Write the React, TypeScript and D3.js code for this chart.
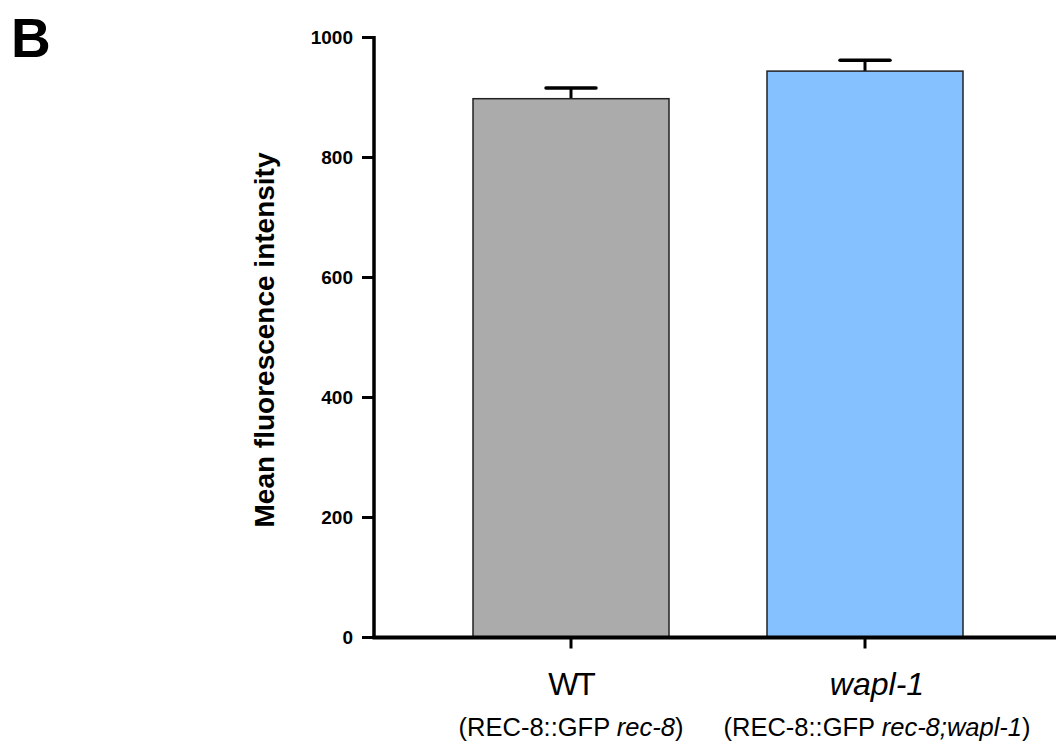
import React from "react";
import * as d3 from "d3";

const categories = ["WT", "wapl-1"];
const subLabels = ["rec-8", "rec-8;wapl-1"];
const means = [898, 944];
const errors = [18, 18];
const colors = ["#ababab", "#84c1fe"];
const yTicks = [0, 200, 400, 600, 800, 1000];

export default function App() {
  const W = 1056, H = 744;
  const x0 = 374, x1 = 1160;
  const y = d3.scaleLinear().domain([0, 1000]).range([637.5, 37.5]);
  const x = d3.scaleBand().domain(categories).range([424, 1012]).paddingInner(1 / 3).paddingOuter(1 / 6);
  const barW = x.bandwidth();
  const font = "'Liberation Sans', Arial, Helvetica, sans-serif";
  return (
    <svg width={W} height={H} style={{ position: "absolute", left: 0, top: 0 }}>
      <text x={11} y={57} fontFamily={font} fontWeight="bold" fontSize={55}>B</text>
      {categories.map((c, i) => {
        const cx = (x(c) as number) + barW / 2;
        const dx = i === 1 ? 12 : 0;
        return (
          <g key={c}>
            <line x1={cx} x2={cx} y1={y(means[i])} y2={y(means[i] + errors[i])} stroke="#000" strokeWidth={3} />
            <line x1={cx - 25} x2={cx + 25} y1={y(means[i] + errors[i])} y2={y(means[i] + errors[i])} stroke="#000" strokeWidth={3.5} strokeLinecap="round" />
            <rect x={x(c)} y={y(means[i])} width={barW} height={y(0) - y(means[i])} fill={colors[i]} stroke="#222" strokeWidth={1.5} />
            <line x1={cx} x2={cx} y1={y(0)} y2={y(0) + 11} stroke="#000" strokeWidth={3} />
            <text x={cx + dx} y={695} textAnchor="middle" fontFamily={font} fontSize={32} fontStyle={i === 1 ? "italic" : "normal"} letterSpacing={i === 0 ? -2 : 0}>{c}</text>
            <text x={cx + dx} y={736} textAnchor="middle" fontFamily={font} fontSize={25.5}>
              (REC-8::GFP <tspan fontStyle="italic">{subLabels[i]}</tspan>)
            </text>
          </g>
        );
      })}
      {/* y axis */}
      <line x1={x0} x2={x0} y1={y(1000) - 1.5} y2={y(0) + 1.5} stroke="#000" strokeWidth={3.5} />
      {yTicks.map((t) => (
        <g key={t}>
          <line x1={x0 - 12} x2={x0} y1={y(t)} y2={y(t)} stroke="#000" strokeWidth={3} />
          <text x={353} y={y(t)} dy="0.35em" textAnchor="end" fontFamily={font} fontWeight="bold" fontSize={19}>{t}</text>
        </g>
      ))}
      {/* x axis */}
      <line x1={x0 - 1.5} x2={x1} y1={y(0)} y2={y(0)} stroke="#000" strokeWidth={4} />
      <text transform={`translate(274,340) rotate(-90)`} textAnchor="middle" fontFamily={font} fontWeight="bold" fontSize={28}>
        Mean fluorescence intensity
      </text>
    </svg>
  );
}
